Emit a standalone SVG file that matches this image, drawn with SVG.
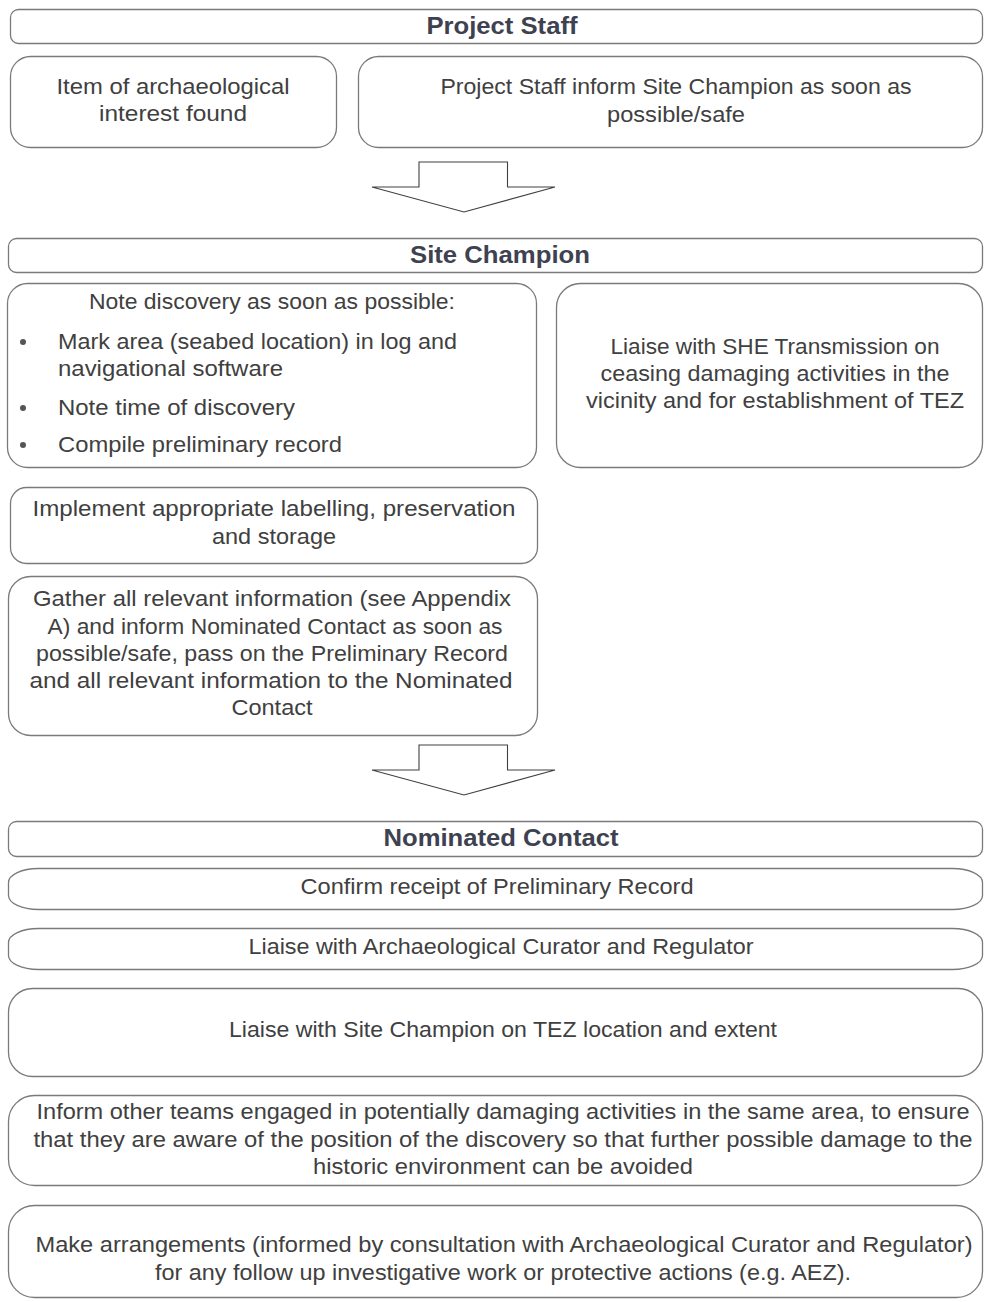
<svg xmlns="http://www.w3.org/2000/svg" width="984" height="1302" viewBox="0 0 984 1302">
<style>
.box{fill:#ffffff;stroke:#7a7a7a;stroke-width:1.3}
.arrow{fill:#ffffff;stroke:#404040;stroke-width:1.1;stroke-linejoin:miter}
.t{font-family:"Liberation Sans",Arial,sans-serif;font-size:22px;fill:#404040;text-anchor:middle}
.tl{font-family:"Liberation Sans",Arial,sans-serif;font-size:22px;fill:#404040}
.h{font-family:"Liberation Sans",Arial,sans-serif;font-size:24px;font-weight:bold;fill:#3e4250;text-anchor:middle}
.b{fill:#555555}
</style>
<rect width="984" height="1302" fill="#ffffff"/>

<g id="project-staff-header">
<rect class="box" x="10.5" y="9.5" width="972" height="34" rx="8"/>
<text class="h" x="502" y="34" textLength="151" lengthAdjust="spacingAndGlyphs">Project Staff</text>
</g>
<g id="item-found">
<rect class="box" x="10.5" y="56.5" width="326" height="91" rx="20"/>
<text class="t" x="173" y="94" textLength="233" lengthAdjust="spacingAndGlyphs">Item of archaeological</text>
<text class="t" x="173" y="121" textLength="148" lengthAdjust="spacingAndGlyphs">interest found</text>
</g>
<g id="staff-inform">
<rect class="box" x="358.5" y="56.5" width="624" height="91" rx="20"/>
<text class="t" x="676" y="94" textLength="471" lengthAdjust="spacingAndGlyphs">Project Staff inform Site Champion as soon as</text>
<text class="t" x="676" y="122" textLength="138" lengthAdjust="spacingAndGlyphs">possible/safe</text>
</g>

<g id="site-champion-header">
<rect class="box" x="8.5" y="238.5" width="974" height="34" rx="8"/>
<text class="h" x="500" y="263" textLength="180" lengthAdjust="spacingAndGlyphs">Site Champion</text>
</g>
<g id="note-discovery">
<rect class="box" x="7.5" y="283.5" width="529" height="184" rx="20"/>
<text class="t" x="272" y="309" textLength="366" lengthAdjust="spacingAndGlyphs">Note discovery as soon as possible:</text>
<circle class="b" cx="23" cy="342" r="3"/>
<text class="tl" x="58" y="349" textLength="399" lengthAdjust="spacingAndGlyphs">Mark area (seabed location) in log and</text>
<text class="tl" x="58" y="376" textLength="225" lengthAdjust="spacingAndGlyphs">navigational software</text>
<circle class="b" cx="23" cy="408" r="3"/>
<text class="tl" x="58" y="415" textLength="237" lengthAdjust="spacingAndGlyphs">Note time of discovery</text>
<circle class="b" cx="23" cy="445" r="3"/>
<text class="tl" x="58" y="452" textLength="284" lengthAdjust="spacingAndGlyphs">Compile preliminary record</text>
</g>
<g id="liaise-she">
<rect class="box" x="556.5" y="283.5" width="426" height="184" rx="24"/>
<text class="t" x="775" y="354" textLength="329" lengthAdjust="spacingAndGlyphs">Liaise with SHE Transmission on</text>
<text class="t" x="775" y="381" textLength="349" lengthAdjust="spacingAndGlyphs">ceasing damaging activities in the</text>
<text class="t" x="775" y="408" textLength="378" lengthAdjust="spacingAndGlyphs">vicinity and for establishment of TEZ</text>
</g>
<g id="implement-labelling">
<rect class="box" x="10.5" y="487.5" width="527" height="76" rx="16"/>
<text class="t" x="274" y="516" textLength="483" lengthAdjust="spacingAndGlyphs">Implement appropriate labelling, preservation</text>
<text class="t" x="274" y="544" textLength="124" lengthAdjust="spacingAndGlyphs">and storage</text>
</g>
<g id="gather-information">
<rect class="box" x="8.5" y="576.5" width="529" height="159" rx="22"/>
<text class="t" x="272" y="606" textLength="478" lengthAdjust="spacingAndGlyphs">Gather all relevant information (see Appendix</text>
<text class="t" x="275" y="634" textLength="455" lengthAdjust="spacingAndGlyphs">A) and inform Nominated Contact as soon as</text>
<text class="t" x="272" y="661" textLength="472" lengthAdjust="spacingAndGlyphs">possible/safe, pass on the Preliminary Record</text>
<text class="t" x="271" y="688" textLength="483" lengthAdjust="spacingAndGlyphs">and all relevant information to the Nominated</text>
<text class="t" x="272" y="715" textLength="81" lengthAdjust="spacingAndGlyphs">Contact</text>
</g>

<g id="nominated-contact-header">
<rect class="box" x="8.5" y="821.5" width="974" height="35" rx="8"/>
<text class="h" x="501" y="846" textLength="235" lengthAdjust="spacingAndGlyphs">Nominated Contact</text>
</g>
<g id="confirm-receipt">
<rect class="box" x="8.5" y="868.5" width="974" height="41" rx="30" ry="14"/>
<text class="t" x="497" y="894" textLength="393" lengthAdjust="spacingAndGlyphs">Confirm receipt of Preliminary Record</text>
</g>
<g id="liaise-curator">
<rect class="box" x="8.5" y="928.5" width="974" height="41" rx="30" ry="14"/>
<text class="t" x="501" y="954" textLength="505" lengthAdjust="spacingAndGlyphs">Liaise with Archaeological Curator and Regulator</text>
</g>
<g id="liaise-site-champion">
<rect class="box" x="8.5" y="988.5" width="974" height="88" rx="24"/>
<text class="t" x="503" y="1037" textLength="548" lengthAdjust="spacingAndGlyphs">Liaise with Site Champion on TEZ location and extent</text>
</g>
<g id="inform-teams">
<rect class="box" x="8.5" y="1095.5" width="974" height="90" rx="26"/>
<text class="t" x="503" y="1119" textLength="933" lengthAdjust="spacingAndGlyphs">Inform other teams engaged in potentially damaging activities in the same area, to ensure</text>
<text class="t" x="503" y="1147" textLength="939" lengthAdjust="spacingAndGlyphs">that they are aware of the position of the discovery so that further possible damage to the</text>
<text class="t" x="503" y="1174" textLength="380" lengthAdjust="spacingAndGlyphs">historic environment can be avoided</text>
</g>
<g id="make-arrangements">
<rect class="box" x="8.5" y="1205.5" width="974" height="92" rx="26"/>
<text class="t" x="504" y="1252" textLength="937" lengthAdjust="spacingAndGlyphs">Make arrangements (informed by consultation with Archaeological Curator and Regulator)</text>
<text class="t" x="503" y="1280" textLength="696" lengthAdjust="spacingAndGlyphs">for any follow up investigative work or protective actions (e.g. AEZ).</text>
</g>

<g id="connectors">
<polygon class="arrow" points="419,162 507.5,162 507.5,187 555,187 464,212 372,187 419,187"/>
<polygon class="arrow" points="419,745 507.5,745 507.5,770 555,770 464,795 372,770 419,770"/>
</g>
</svg>
